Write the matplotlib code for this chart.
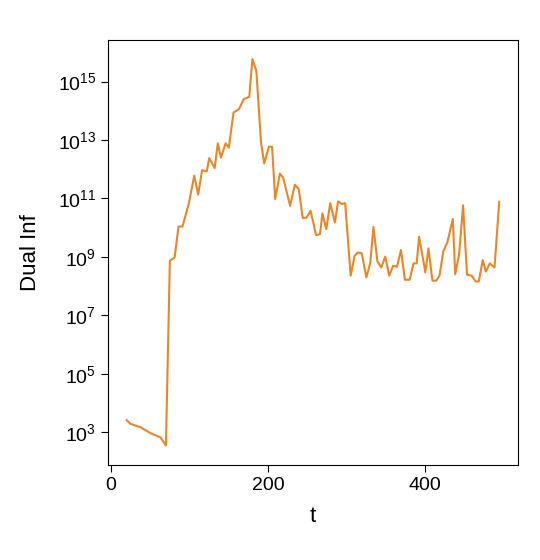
import matplotlib
matplotlib.use("Agg")
import matplotlib.pyplot as plt
import matplotlib.ticker as mticker
import numpy as np

plt.rcParams['font.family'] = ['Liberation Sans', 'DejaVu Sans']

t = [20, 25, 38, 51, 63, 70, 75, 81, 86, 91, 99, 106, 111, 116, 122, 125, 132,
     136, 140, 146, 150, 156, 163, 169, 176, 180, 185, 191, 195, 201, 205, 209,
     215, 219, 228, 234, 239, 244, 249, 254, 261, 266, 269, 274, 279, 285, 289,
     294, 298, 305, 310, 314, 319, 325, 330, 334, 339, 344, 349, 354, 359, 364,
     369, 374, 380, 385, 389, 392, 396, 400, 404, 409, 414, 418, 423, 428, 435,
     438, 443, 448, 453, 459, 464, 468, 473, 477, 482, 488, 494]
log_dual_inf = [3.42, 3.29, 3.17, 2.96, 2.83, 2.55, 8.87, 8.98, 10.04, 10.04,
                10.81, 11.78, 11.13, 11.97, 11.93, 12.38, 12.04, 12.89, 12.40,
                12.89, 12.74, 13.94, 14.06, 14.40, 14.48, 15.77, 15.37, 12.91,
                12.20, 12.77, 12.77, 10.98, 11.85, 11.72, 10.75, 11.47, 11.32,
                10.33, 10.35, 10.58, 9.75, 9.78, 10.49, 9.95, 10.84, 10.18,
                10.90, 10.81, 10.84, 8.36, 9.04, 9.15, 9.13, 8.30, 8.81, 10.03,
                8.85, 8.64, 9.01, 8.36, 8.70, 8.67, 9.24, 8.22, 8.22, 8.78,
                8.78, 9.69, 9.10, 8.47, 9.29, 8.19, 8.19, 8.36, 9.21, 9.50,
                10.30, 8.41, 9.10, 10.77, 8.39, 8.36, 8.16, 8.16, 8.89, 8.50,
                8.78, 8.64, 10.89]
y_ticks = [1e3, 1e5, 1e7, 1e9, 1e11, 1e13, 1e15]

dual_inf = 10.0 ** np.array(log_dual_inf)

fig = plt.figure(figsize=(5.4, 5.6), dpi=100)
ax = fig.add_axes([0.2, 0.17, 0.759, 0.759])
ax.plot(t, dual_inf, color="#e8862a", lw=1.5)
ax.set_yscale("log")
ax.yaxis.set_major_locator(mticker.FixedLocator(y_ticks))
ax.yaxis.set_minor_locator(mticker.NullLocator())
ax.set_xticks([0, 200, 400])
ax.tick_params(labelsize=14, length=5)
ax.set_xlabel("t", fontsize=16, labelpad=9)
ax.set_ylabel("Dual Inf", fontsize=16, labelpad=12)

fig.savefig("out.png", dpi=100)
